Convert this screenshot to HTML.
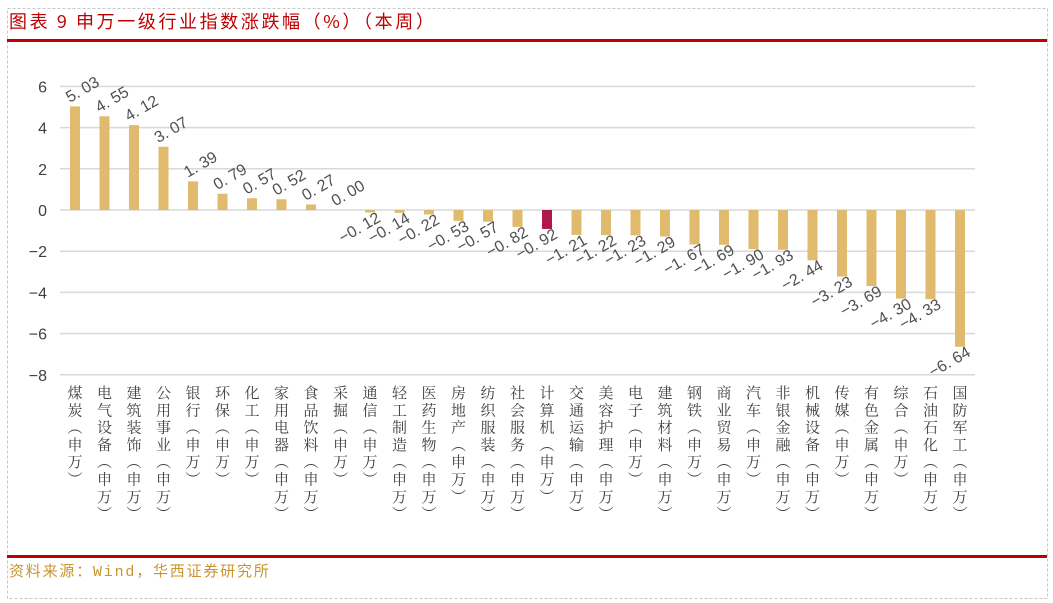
<!DOCTYPE html>
<html><head><meta charset="utf-8"><style>
body{margin:0;background:#fff;}
svg{display:block;font-family:"Liberation Sans","Noto Sans CJK SC",sans-serif;}
</style></head><body>
<svg width="1053" height="603">
<rect x="7.5" y="8.5" width="1040" height="590" fill="none" stroke="#c8c8c8" stroke-dasharray="3,2"/>
<text x="9" y="28" font-size="18" letter-spacing="2.6" fill="#c00000" font-family="'Noto Sans CJK SC',sans-serif">图表 9 申万一级行业指数涨跌幅（%）（本周）</text>
<rect x="7" y="39" width="1040" height="3" fill="#c00000"/>
<rect x="7" y="555" width="1040" height="3" fill="#c00000"/>
<text x="9" y="576" font-size="15" letter-spacing="1.8" fill="#c8952e" font-family="'Liberation Mono','Noto Sans CJK SC',monospace">资料来源：Wind，华西证券研究所</text>
<g id="plot"></g>
</svg>
<script>
const categories=["煤炭","电气设备","建筑装饰","公用事业","银行","环保","化工","家用电器","食品饮料","采掘","通信","轻工制造","医药生物","房地产","纺织服装","社会服务","计算机","交通运输","美容护理","电子","建筑材料","钢铁","商业贸易","汽车","非银金融","机械设备","传媒","有色金属","综合","石油石化","国防军工"];
const values=[5.03,4.55,4.12,3.07,1.39,0.79,0.57,0.52,0.27,0.00,-0.12,-0.14,-0.22,-0.53,-0.57,-0.82,-0.92,-1.21,-1.22,-1.23,-1.29,-1.67,-1.69,-1.90,-1.93,-2.44,-3.23,-3.69,-4.30,-4.33,-6.64];
const yTicks=[6,4,2,0,-2,-4,-6,-8];
const highlight="计算机";
const NS="http://www.w3.org/2000/svg";
const g=document.getElementById('plot');
const x0=60,x1=975,firstC=75,lastC=960;
const y=v=>210-v*20.6;
const x=i=>firstC+i*(lastC-firstC)/(categories.length-1);
function mk(t,a){const e=document.createElementNS(NS,t);for(const k in a)e.setAttribute(k,a[k]);g.appendChild(e);return e;}
yTicks.forEach(t=>{
 const l=mk('line',{x1:x0,x2:x1,y1:y(t),y2:y(t),stroke:'#d9d9d9','stroke-width':1.5});
 
 
 const tx=mk('text',{x:47,y:y(t)+6,'font-size':16,fill:'#404040','text-anchor':'end'});
 tx.textContent=(t<0?'−':'')+Math.abs(t);
 
 
});
categories.forEach((c,i)=>{
 const v=values[i],cx=x(i);
 const top=Math.min(y(v),y(0)),h=Math.abs(y(v)-y(0));
 const r=mk('rect',{x:cx-5,y:top,width:10,height:Math.max(h,0.01),fill:c===highlight?'#b0174a':'#e0bb6e'});
 
 
 let lx,ly;
 if(v>=0){lx=cx+8;ly=y(v)-16;}else{lx=cx-10;ly=y(v)+16;}
 const t=mk('text',{x:lx,y:ly,'font-size':16,fill:'#505050','text-anchor':'middle',transform:`rotate(-30 ${lx} ${ly})`,'dominant-baseline':'middle'});
 t.textContent=(v<0?'−':'')+Math.abs(v).toFixed(2).replace('.','. ');
 
 
 const chars=[...c,'︵','申','万','︶'];
 chars.forEach((ch,j)=>{
  const ct=mk('text',{x:cx,y:398+j*17.3,'font-size':15,fill:'#404040','text-anchor':'middle','font-family':"'Noto Serif CJK SC',serif"});
  ct.textContent=ch;
  
  
 });
});
</script>
</body></html>
